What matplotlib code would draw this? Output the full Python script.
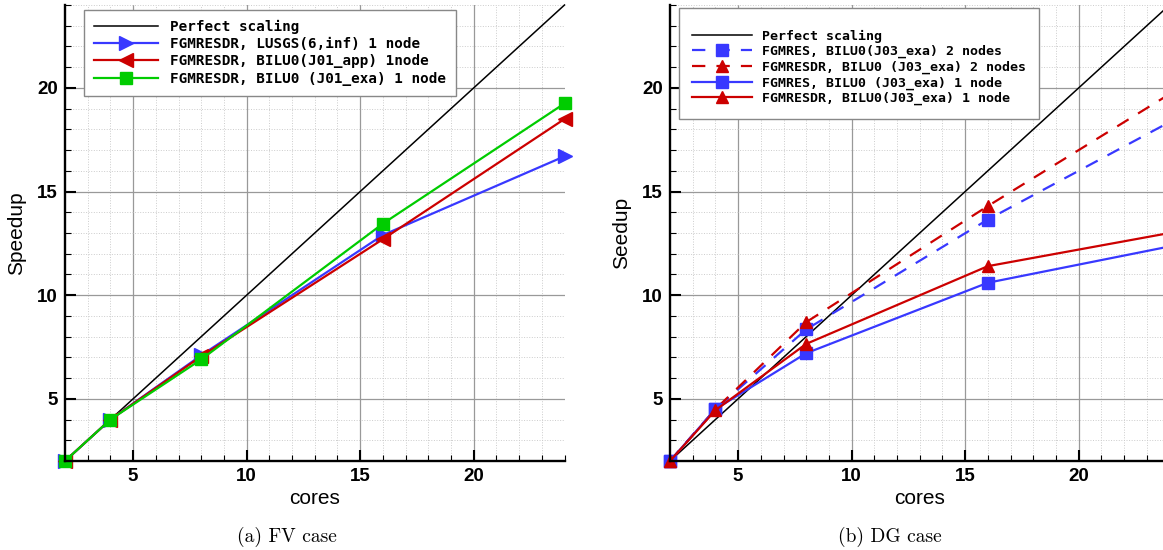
import matplotlib
matplotlib.use("Agg")
import matplotlib.pyplot as plt
from matplotlib.ticker import MultipleLocator

# nombre de coeurs
cores = [2, 4, 8, 16, 24]
perfect = [2, 4, 8, 16, 24]

# cas FV
fv_lusgs = [2, 4, 7.1, 12.9, 16.7]
fv_bilu0_app = [2, 4, 7.05, 12.7, 18.5]
fv_bilu0_exa = [2, 4, 6.9, 13.45, 19.25]

# cas DG
dg_fgmres_2n = [2, 4.5, 8.35, 13.65, 18.35]
dg_fgmresdr_2n = [2, 4.5, 8.7, 14.3, 19.7]
dg_fgmres_1n = [2, 4.5, 7.2, 10.6, 12.35]
dg_fgmresdr_1n = [2, 4.45, 7.65, 11.4, 13.0]

BLUE = "#3838ff"
RED = "#cc0000"
GREEN = "#00cc00"

fig = plt.figure(figsize=(11.63, 5.5), dpi=100)


def style_axes(ax, ylabel):
    ax.set_xlim(2, 24)
    ax.set_ylim(2, 24)
    ax.xaxis.set_major_locator(MultipleLocator(5))
    ax.yaxis.set_major_locator(MultipleLocator(5))
    ax.xaxis.set_minor_locator(MultipleLocator(1))
    ax.yaxis.set_minor_locator(MultipleLocator(1))
    ax.grid(which="major", color="#999999", lw=0.9)
    ax.grid(which="minor", color="#cccccc", lw=0.7, ls=":")
    ax.set_axisbelow(True)
    for s in ("top", "right"):
        ax.spines[s].set_visible(False)
    for s in ("left", "bottom"):
        ax.spines[s].set_linewidth(1.7)
    ax.tick_params(which="major", direction="in", length=8, width=1.5, pad=5)
    ax.tick_params(which="minor", direction="in", length=4, width=0.8)
    for lab in ax.get_xticklabels() + ax.get_yticklabels():
        lab.set_fontfamily("Liberation Sans")
        lab.set_fontweight("bold")
        lab.set_fontsize(13.5)
    ax.set_xlabel("cores", fontfamily="Liberation Sans", fontsize=15, labelpad=3)
    ax.set_ylabel(ylabel, fontfamily="Liberation Sans", fontsize=15, labelpad=8)


# (a) FV
ax1 = fig.add_axes([65 / 1163, 89 / 550, 499.5 / 1163, 456 / 550])
ax1.plot(cores, perfect, color="black", lw=1.1, label="Perfect scaling", clip_on=False)
ax1.plot(cores, fv_lusgs, color=BLUE, lw=1.6, marker=">", ms=10,
         label="FGMRESDR, LUSGS(6,inf) 1 node", clip_on=False)
ax1.plot(cores, fv_bilu0_app, color=RED, lw=1.6, marker="<", ms=10,
         label="FGMRESDR, BILU0(J01_app) 1node", clip_on=False)
ax1.plot(cores, fv_bilu0_exa, color=GREEN, lw=1.6, marker="s", ms=8,
         label="FGMRESDR, BILU0 (J01_exa) 1 node", clip_on=False)
style_axes(ax1, "Speedup")
leg1 = ax1.legend(loc="upper left", bbox_to_anchor=(84 / 1163, 1 - 10 / 550),
                  bbox_transform=fig.transFigure, borderaxespad=0,
                  prop={"family": "DejaVu Sans Mono", "weight": "bold", "size": 10.3},
                  handlelength=4.5, handletextpad=0.8, labelspacing=0.22,
                  borderpad=0.7, numpoints=1, fancybox=False, framealpha=1,
                  edgecolor="#888888")
leg1.get_frame().set_linewidth(1.0)

# (b) DG
ax2 = fig.add_axes([670 / 1163, 89 / 550, 499.5 / 1163, 456 / 550])
ax2.plot(cores, perfect, color="black", lw=1.1, label="Perfect scaling")
ax2.plot(cores, dg_fgmres_2n, color=BLUE, lw=1.6, ls=(0, (6, 5)), marker="s", ms=8,
         label="FGMRES, BILU0(J03_exa) 2 nodes", clip_on=False)
ax2.plot(cores, dg_fgmresdr_2n, color=RED, lw=1.6, ls=(0, (6, 5)), marker="^", ms=9,
         label="FGMRESDR, BILU0 (J03_exa) 2 nodes", clip_on=False)
ax2.plot(cores, dg_fgmres_1n, color=BLUE, lw=1.6, marker="s", ms=8,
         label="FGMRES, BILU0 (J03_exa) 1 node", clip_on=False)
ax2.plot(cores, dg_fgmresdr_1n, color=RED, lw=1.6, marker="^", ms=9,
         label="FGMRESDR, BILU0(J03_exa) 1 node", clip_on=False)
style_axes(ax2, "Seedup")
leg2 = ax2.legend(loc="upper left", bbox_to_anchor=(679 / 1163, 1 - 8 / 550),
                  bbox_transform=fig.transFigure, borderaxespad=0,
                  prop={"family": "DejaVu Sans Mono", "weight": "bold", "size": 9.5},
                  handlelength=4.5, handletextpad=0.8, labelspacing=0.18,
                  borderpad=1.0, numpoints=1, fancybox=False, framealpha=1,
                  edgecolor="#888888", title=" ", title_fontsize=5)
leg2.get_frame().set_linewidth(1.0)

fig.text(287 / 1163, 1 - 537 / 550, "(a) FV case", fontfamily="cmr10",
         fontsize=14, ha="center", va="center")
fig.text(890 / 1163, 1 - 537 / 550, "(b) DG case", fontfamily="cmr10",
         fontsize=14, ha="center", va="center")

fig.savefig("out.png", dpi=100)
